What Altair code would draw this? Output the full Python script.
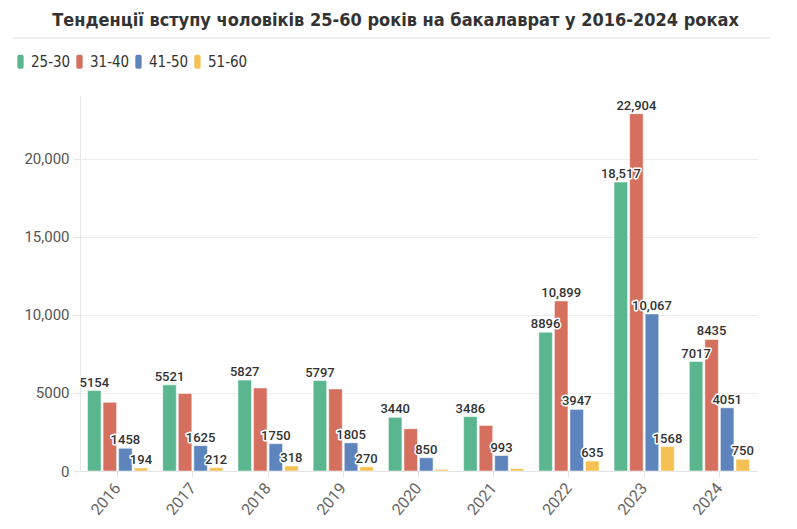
import altair as alt
import pandas as pd

years = ["2016", "2017", "2018", "2019", "2020", "2021", "2022", "2023", "2024"]
groups = ["25-30", "31-40", "41-50", "51-60"]
v_25_30 = [5154, 5521, 5827, 5797, 3440, 3486, 8896, 18517, 7017]
v_31_40 = [4400, 4970, 5320, 5260, 2710, 2920, 10899, 22904, 8435]
v_41_50 = [1458, 1625, 1750, 1805, 850, 993, 3947, 10067, 4051]
v_51_60 = [194, 212, 318, 270, 100, 150, 635, 1568, 750]
# which bars carry a value label
show_25_30 = [1, 1, 1, 1, 1, 1, 1, 1, 1]
show_31_40 = [0, 0, 0, 0, 0, 0, 1, 1, 1]
show_41_50 = [1, 1, 1, 1, 1, 1, 1, 1, 1]
show_51_60 = [1, 1, 1, 1, 0, 0, 1, 1, 1]
colors = ["#5ab68e", "#d5705f", "#5d84bd", "#f5c152"]
title_text = "Тенденції вступу чоловіків 25-60 років на бакалаврат у 2016-2024 роках"

rows = []
for g, vals, shows in zip(groups, [v_25_30, v_31_40, v_41_50, v_51_60],
                          [show_25_30, show_31_40, show_41_50, show_51_60]):
    for y, v, s in zip(years, vals, shows):
        lab = (f"{v:,}" if v >= 10000 else str(v)) if s else ""
        rows.append({"year": y, "group": g, "value": v, "label": lab})
df = pd.DataFrame(rows)

cond_font = "DejaVu Sans Condensed, sans-serif"

base = alt.Chart(df).encode(
    x=alt.X("year:N", sort=years, title=None,
            scale=alt.Scale(paddingInner=0.2, paddingOuter=0.1),
            axis=alt.Axis(labelAngle=310, labelFontSize=16, labelColor="#666666",
                          labelFont="Roboto",
                          tickColor="#e3e3e3", tickSize=6,
                          domainColor="#e3e3e3", labelPadding=8, grid=False)),
    xOffset=alt.XOffset("group:N", sort=groups, scale=alt.Scale(paddingInner=0.13)),
    y=alt.Y("value:Q", title=None,
            scale=alt.Scale(domain=[0, 24100], nice=False),
            axis=alt.Axis(values=[0, 5000, 10000, 15000, 20000],
                          labelExpr="datum.value >= 10000 ? format(datum.value, ',') : format(datum.value, 'd')",
                          labelFontSize=15, labelColor="#555555", labelFont="Roboto",
                          gridColor="#ececec", domainColor="#e6e6e6", tickColor="#e6e6e6",
                          tickSize=7, labelPadding=4)),
)

bars = base.mark_bar(stroke="white", strokeWidth=1, strokeOpacity=0.5).encode(
    color=alt.Color("group:N", sort=groups,
                    scale=alt.Scale(domain=groups, range=colors),
                    legend=alt.Legend(title=None, orient="none", direction="horizontal",
                                      legendX=-67, legendY=-41,
                                      symbolType="M-0.45,-0.75 Q-0.45,-1 -0.2,-1 L0.2,-1 Q0.45,-1 0.45,-0.75 L0.45,0.75 Q0.45,1 0.2,1 L-0.2,1 Q-0.45,1 -0.45,0.75 Z",
                                      symbolSize=196, symbolStrokeWidth=0,
                                      labelFont=cond_font, labelFontSize=15,
                                      labelColor="#333333", labelOffset=3,
                                      columnPadding=1, symbolOffset=0)),
)

labeled = base.transform_filter("datum.label != ''")
halo = labeled.mark_text(baseline="alphabetic", dy=-4, fontSize=13, font="Roboto",
                         fontWeight=500, stroke="white", strokeWidth=3,
                         strokeJoin="round", color="white").encode(text="label:N")
texts = labeled.mark_text(baseline="alphabetic", dy=-4, fontSize=13, font="Roboto",
                          fontWeight=500, color="#333333").encode(text="label:N")

line = alt.Chart(pd.DataFrame({"a": [0]})).mark_rule(color="#dcdcdc", strokeWidth=1).encode(
    x=alt.value(-67), x2=alt.value(690), y=alt.value(-57)
)

chart = alt.layer(bars, halo, texts, line).properties(
    width=677, height=376,
    title=alt.TitleParams(title_text, anchor="middle", dx=-23, offset=8,
                          font=cond_font, fontSize=18, fontWeight="bold",
                          color="#333333"),
    autosize=alt.AutoSizeParams(type="none"),
    padding={"left": 72, "top": 87, "right": 30, "bottom": 50},
).configure_view(stroke=None)

chart.save("out.html", embed_options={"renderer": "svg", "actions": False})
